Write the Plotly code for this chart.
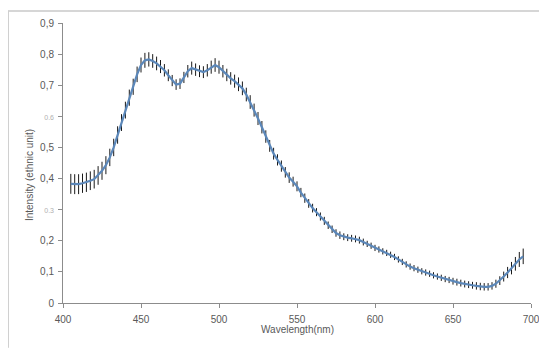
import plotly.graph_objects as go

wavelength = [405 + 2.5 * i for i in range(117)]
intensity = [
    0.383, 0.382, 0.382, 0.385, 0.388, 0.393, 0.398, 0.410, 0.425, 0.443,
    0.468, 0.500, 0.540, 0.580, 0.620, 0.660, 0.695, 0.735, 0.765, 0.780,
    0.783, 0.778, 0.770, 0.760, 0.748, 0.732, 0.715, 0.702, 0.705, 0.725,
    0.745, 0.755, 0.750, 0.745, 0.742, 0.748, 0.758, 0.765, 0.758, 0.745,
    0.733, 0.722, 0.713, 0.703, 0.690, 0.670, 0.646, 0.620, 0.593, 0.565,
    0.535, 0.505, 0.480, 0.460, 0.440, 0.420, 0.403, 0.390, 0.375, 0.355,
    0.337, 0.320, 0.305, 0.292, 0.278, 0.264, 0.250, 0.237, 0.225, 0.218,
    0.213, 0.210, 0.208, 0.206, 0.202, 0.196, 0.190, 0.184, 0.177, 0.172,
    0.166, 0.161, 0.155, 0.148, 0.140, 0.132, 0.124, 0.117, 0.112, 0.107,
    0.102, 0.098, 0.094, 0.089, 0.085, 0.081, 0.077, 0.074, 0.070, 0.067,
    0.064, 0.061, 0.059, 0.057, 0.055, 0.053, 0.052, 0.052, 0.055, 0.062,
    0.072, 0.085, 0.098, 0.112, 0.126, 0.140, 0.150,
]
errors = [
    0.032, 0.032, 0.032, 0.031, 0.031, 0.030, 0.030, 0.030, 0.029, 0.029,
    0.028, 0.028, 0.028, 0.027, 0.027, 0.026, 0.026, 0.025, 0.024, 0.024,
    0.023, 0.022, 0.022, 0.021, 0.020, 0.019, 0.018, 0.017, 0.017, 0.018,
    0.020, 0.021, 0.020, 0.019, 0.019, 0.020, 0.021, 0.022, 0.021, 0.020,
    0.020, 0.020, 0.021, 0.022, 0.022, 0.022, 0.022, 0.021, 0.021, 0.020,
    0.020, 0.019, 0.019, 0.018, 0.018, 0.017, 0.017, 0.016, 0.016, 0.015,
    0.015, 0.014, 0.014, 0.013, 0.013, 0.013, 0.012, 0.012, 0.012, 0.012,
    0.011, 0.011, 0.011, 0.011, 0.011, 0.011, 0.010, 0.010, 0.010, 0.010,
    0.010, 0.010, 0.010, 0.010, 0.010, 0.010, 0.010, 0.010, 0.010, 0.010,
    0.010, 0.010, 0.010, 0.010, 0.010, 0.010, 0.010, 0.010, 0.011, 0.011,
    0.011, 0.011, 0.011, 0.011, 0.012, 0.012, 0.012, 0.012, 0.012, 0.013,
    0.014, 0.016, 0.018, 0.020, 0.022, 0.024, 0.025,
]

x_ticks = [400, 450, 500, 550, 600, 650, 700]
y_ticks = [0, 0.1, 0.2, 0.3, 0.4, 0.5, 0.6, 0.7, 0.8, 0.9]
small = "<span style='font-size:7px;color:#b0b0b0'>{}</span>"
y_labels = ["0", "0,1", "0,2", small.format("0.3"), "0,4", "0,5",
            small.format("0.6"), "0,7", "0,8", "0,9"]

FONT = "Liberation Sans"
AX = "#8c8c8c"
TXT = "#595959"

fig = go.Figure()
fig.add_trace(go.Scatter(
    x=wavelength, y=intensity, mode="lines",
    line=dict(color="#5b87b9", width=2.2),
    error_y=dict(type="data", array=errors, visible=True,
                 color="#1a1a1a", thickness=1, width=0),
    showlegend=False,
))

# page body has an 8px margin, so the figure is 8px smaller and shifted
fig.update_layout(
    width=539, height=341,
    margin=dict(l=55, r=16, t=15, b=46, autoexpand=False),
    paper_bgcolor="white", plot_bgcolor="white",
    font=dict(family=FONT, size=10, color=TXT),
    xaxis=dict(range=[400, 700], tickvals=x_ticks,
               ticktext=[str(v) for v in x_ticks],
               showgrid=False, zeroline=False, showline=True,
               linecolor=AX, linewidth=1, ticks="outside", ticklen=4,
               tickcolor=AX, tickfont=dict(size=10, color=TXT),
               automargin=False, ticklabelstandoff=3),
    yaxis=dict(range=[0, 0.9], tickvals=y_ticks, ticktext=y_labels,
               showgrid=False, zeroline=False, showline=True,
               linecolor=AX, linewidth=1, ticks="outside", ticklen=4,
               tickcolor=AX, tickfont=dict(size=10, color=TXT),
               automargin=False, ticklabelstandoff=2),
    annotations=[
        dict(text="Wavelength(nm)", xref="paper", yref="paper",
             x=0.5, y=-0.096, xanchor="center", yanchor="middle",
             showarrow=False, font=dict(size=10, color=TXT)),
        dict(text="Intensity (ethnic unit)", xref="paper", yref="paper",
             x=-0.0726, y=0.457, xanchor="center", yanchor="middle",
             textangle=-90, showarrow=False, font=dict(size=10, color=TXT)),
    ],
    shapes=[
        dict(type="line", xref="paper", yref="paper",
             x0=-0.1175, x1=1.03, y0=1.043, y1=1.043,
             line=dict(color="#c8c8c8", width=1.5)),
        dict(type="line", xref="paper", yref="paper",
             x0=-0.1165, x1=-0.1165, y0=1.043, y1=-0.16,
             line=dict(color="#cfcfcf", width=1)),
        dict(type="line", xref="paper", yref="paper",
             x0=1.021, x1=1.021, y0=1.043, y1=-0.16,
             line=dict(color="#f0f0f0", width=1)),
    ],
)

fig.write_html("out.html")
